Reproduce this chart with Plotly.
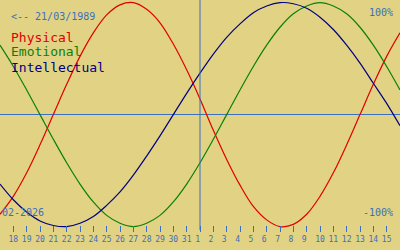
import plotly.graph_objects as go
import pandas as pd

# Days shown: 17 Jan 2026 .. 16 Feb 2026
dates = pd.date_range("2026-01-17", "2026-02-16", freq="D")
today = "2026-02-01"
birth_label = "<-- 21/03/1989"
month_label = "02-2026"

physical = [-89, -73, -52, -27, 0, 27, 52, 73, 89, 98, 100, 94, 82, 63, 40, 14,
            -14, -40, -63, -82, -94, -100, -98, -89, -73, -52, -27, 0, 27, 52, 73]
emotional = [62, 43, 22, 0, -22, -43, -62, -78, -90, -97, -100, -97, -90, -78, -62, -43,
             -22, 0, 22, 43, 62, 78, 90, 97, 100, 97, 90, 78, 62, 43, 22]
intellectual = [-62, -76, -87, -95, -99, -100, -97, -91, -81, -69, -54, -37, -19, 0, 19, 37,
                54, 69, 81, 91, 97, 100, 99, 95, 87, 76, 62, 46, 28, 10, -10]

tick_dates = pd.date_range("2026-01-18", "2026-02-15", freq="D")
tick_labels = ["18", "19", "20", "21", "22", "23", "24", "25", "26", "27", "28", "29", "30", "31",
               "1", "2", "3", "4", "5", "6", "7", "8", "9", "10", "11", "12", "13", "14", "15"]

BG = "#E1D284"
BLUE = "#3D6FBF"
RED = "#E00000"
GREEN = "#0A800A"
NAVY = "#000080"
MONO = "DejaVu Sans Mono"

fig = go.Figure()
for name, vals, col in [("Physical", physical, RED),
                        ("Emotional", emotional, GREEN),
                        ("Intellectual", intellectual, NAVY)]:
    fig.add_trace(go.Scatter(x=dates, y=vals, mode="lines", name=name,
                             line=dict(color=col, width=1.2, shape="spline", smoothing=1.0),
                             hoverinfo="skip"))

fig.add_shape(type="line", x0=today, x1=today, xref="x", yref="paper", y0=0.08, y1=1,
              line=dict(color=BLUE, width=1))

ticktext = [t if len(t) == 2 else t + "\u00a0" for t in tick_labels]

fig.update_layout(
    width=400, height=250,
    margin=dict(l=0, r=0, t=0, b=0),
    paper_bgcolor=BG, plot_bgcolor=BG,
    showlegend=False,
    xaxis=dict(range=[dates[0], dates[-1]], anchor="free", position=0.1,
               tickvals=list(tick_dates), ticktext=ticktext,
               ticks="outside", ticklen=6, tickwidth=1, tickcolor=BLUE,
               tickfont=dict(family=MONO, size=8, color=BLUE),
               showgrid=False, showline=False, zeroline=False),
    yaxis=dict(range=[-120.89, 102.32], showticklabels=False, showgrid=False,
               zeroline=True, zerolinecolor=BLUE, zerolinewidth=1, ticks=""),
)

def px2paper(py):
    return 1 - py / 250.0

annos = [
    (birth_label, 10, 16, BLUE, 10, "left"),
    ("Physical", 10, 37, RED, 13, "left"),
    ("Emotional", 10, 52, GREEN, 13, "left"),
    ("Intellectual", 10, 67, NAVY, 13, "left"),
    ("100%", 394, 12, BLUE, 10, "right"),
    ("-100%", 394, 212, BLUE, 10, "right"),
    (month_label, 1, 212, BLUE, 10, "left"),
]
for text, x, y, col, size, anchor in annos:
    fig.add_annotation(text=text, xref="paper", yref="paper", x=x / 400.0, y=px2paper(y),
                       xanchor=anchor, yanchor="middle", showarrow=False,
                       font=dict(family=MONO, size=size, color=col), borderpad=0)

fig.write_html("out.html")
